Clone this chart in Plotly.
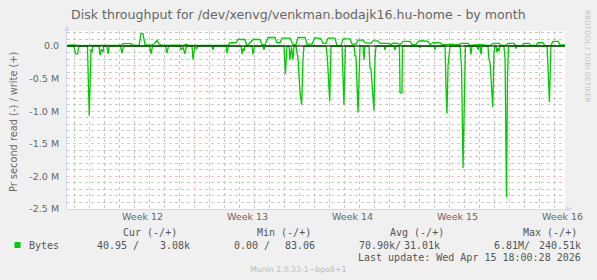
import plotly.graph_objects as go
import pandas as pd

# ---------------- data ----------------
base = pd.Timestamp("2026-03-14 00:00")   # day offsets below are relative to this

# read (plotted negative), in millions of bytes per second
read_days = [0.47, 0.93, 1.03, 1.17, 1.27, 1.83, 1.95, 2.03, 2.07, 2.13, 2.20, 2.60, 2.67, 2.77, 2.87,
             2.93, 3.13, 3.20, 3.30, 4.03, 4.13, 4.23, 5.97, 6.07, 6.17, 7.03, 7.13, 7.23, 8.00, 8.07,
             8.20, 8.33, 8.43, 8.80, 8.87, 8.97, 9.13, 9.20, 10.13, 10.20, 10.27, 11.07, 11.13, 11.23,
             12.07, 12.13, 12.20, 12.27, 12.33, 12.80, 12.87, 12.97, 13.53, 13.60, 13.67, 14.93, 15.03,
             15.13, 15.27, 15.33, 15.43, 15.53, 15.60, 15.73, 15.87, 16.00, 16.11, 16.20, 16.27, 17.73,
             17.83, 17.98, 18.07, 18.80, 18.93, 19.03, 19.60, 19.67, 19.73, 19.87, 19.93, 20.00, 20.20,
             20.27, 20.33, 20.60, 20.67, 20.73, 20.93, 21.00, 21.07, 21.60, 21.67, 21.73, 22.27, 22.33,
             22.40, 22.63, 22.67, 22.80, 22.83, 23.93, 24.00, 24.07, 24.93, 25.00, 25.07, 25.67, 25.73,
             25.80, 25.87, 25.93, 26.00, 26.67, 26.73, 26.77, 26.87, 26.97, 27.03, 27.33, 27.40, 27.47,
             27.80, 27.87, 27.93, 28.00, 28.07, 28.13, 28.53, 28.60, 28.67, 28.85, 28.93, 29.00, 29.07,
             29.13, 29.20, 29.27, 29.33, 29.60, 29.67, 29.77, 29.83, 29.90, 30.33, 30.40, 30.47, 32.47,
             32.53, 32.63, 32.73, 33.67]
read_vals = [0, 0, -0.12, -0.12, 0, 0, -1.07, -0.2, -0.05, -0.1, 0, 0, -0.14, -0.05, -0.09,
             0, 0, -0.12, 0, 0, -0.11, 0, 0, -0.12, 0, 0, -0.11, 0, 0, -0.06,
             -0.02, -0.12, 0, 0, -0.21, -0.02, -0.04, 0, 0, -0.06, 0, 0, -0.11, 0,
             0, -0.12, -0.04, -0.08, 0, 0, -0.13, 0, 0, -0.06, 0, 0, -0.43,
             0, 0, -0.21, -0.02, -0.21, 0, 0, -0.2, -0.7, -0.90, -0.2, 0, 0,
             -0.2, -0.85, 0, 0, -0.90, 0, 0, -0.15, -0.15, -1.02, -0.3, 0, 0,
             -0.21, 0, 0, -0.34, -0.35, -0.99, -0.2, 0, 0, -0.06, 0, 0, -0.06,
             0, 0, -0.72, -0.72, 0, 0, -0.03, 0, 0, -0.05, 0, 0, -0.6,
             -1.04, -0.3, -0.15, 0, 0, -0.31, -0.32, -1.87, -0.2, 0, 0, -0.13, 0,
             0, -0.06, 0, 0, -0.13, 0, 0, -0.21, -0.25, -0.94, -0.1, 0, 0,
             -0.1, -0.03, -0.08, 0, 0, -0.2, -2.32, -0.5, 0, 0, -0.04, 0, 0,
             -0.3, -0.86, 0, 0]

# write (plotted positive), in millions of bytes per second
write_days = [0.47, 0.80, 1.33, 1.87, 2.33, 3.33, 4.07, 4.20, 4.73, 4.87, 5.27, 5.40, 5.53, 5.67, 6.00,
              6.27, 6.47, 6.60, 6.80, 7.67, 8.27, 8.40, 8.53, 9.33, 10.00, 10.20, 10.47, 11.20, 11.33,
              11.73, 11.87, 12.33, 12.47, 12.60, 12.87, 13.33, 13.47, 13.67, 13.87, 14.33, 14.47, 14.67,
              14.80, 15.33, 15.53, 15.73, 15.87, 16.33, 16.47, 16.80, 17.00, 17.40, 17.53, 17.73, 17.87,
              18.33, 18.47, 18.73, 18.87, 19.33, 19.47, 19.73, 19.87, 20.20, 20.33, 20.73, 20.87, 21.20,
              21.33, 21.93, 22.07, 22.20, 22.53, 22.67, 22.87, 23.33, 23.47, 23.73, 23.87, 24.13, 24.53,
              24.67, 24.87, 25.33, 25.47, 25.87, 26.13, 26.33, 26.60, 26.73, 27.20, 27.33, 27.73, 27.87,
              28.20, 28.40, 28.73, 28.87, 29.27, 29.40, 29.73, 29.87, 30.27, 30.40, 30.80, 30.93, 31.27,
              31.40, 31.73, 31.87, 32.20, 32.33, 32.73, 32.87, 33.20, 33.33, 33.67]
write_vals = [0.01, 0.015, 0.005, 0.01, 0.01, 0.008, 0.01, 0.035, 0.035, 0.01, 0.01, 0.19, 0.19, 0.02, 0.01,
              0.03, 0.09, 0.03, 0.01, 0.012, 0.01, 0.03, 0.01, 0.01, 0.01, 0.015, 0.01, 0.01, 0.05,
              0.05, 0.10, 0.10, 0.0, 0.03, 0.10, 0.10, 0.02, 0.02, 0.13, 0.13, 0.05, 0.05,
              0.12, 0.12, 0.02, 0.02, 0.13, 0.13, 0.03, 0.03, 0.13, 0.11, 0.04, 0.04, 0.12,
              0.12, 0.0, 0.01, 0.11, 0.11, 0.03, 0.03, 0.09, 0.09, 0.05, 0.04, 0.08, 0.08,
              0.04, 0.04, 0.02, 0.045, 0.04, 0.02, 0.07, 0.07, 0.02, 0.02, 0.07, 0.08, 0.07,
              0.02, 0.05, 0.05, 0.02, 0.02, 0.03, 0.02, 0.02, 0.04, 0.04, 0.01, 0.02, 0.02,
              0.02, 0.01, 0.01, 0.04, 0.04, 0.01, 0.01, 0.04, 0.04, 0.0, 0.01, 0.04, 0.04,
              0.01, 0.01, 0.05, 0.05, 0.0, 0.01, 0.07, 0.07, 0.02, 0.015]

x_range_days = [0.467, 33.667]
week_starts = ["2026-03-16", "2026-03-23", "2026-03-30", "2026-04-06", "2026-04-13"]
week_labels = ["Week 12", "Week 13", "Week 14", "Week 15", "Week 16"]
y_tick_vals = [0.0, -0.5, -1.0, -1.5, -2.0, -2.5]
y_tick_text = ["0.0", "-0.5 M", "-1.0 M", "-1.5 M", "-2.0 M", "-2.5 M"]
y_range = [-2.5, 0.23]

legend_headers = ["Cur (-/+)", "Min (-/+)", "Avg (-/+)", "Max (-/+)"]
legend_read = ["40.95 /", "0.00 /", "70.90k/", "6.81M/"]
legend_write = ["3.08k", "83.06", "31.01k", "240.51k"]
series_name = "Bytes"
last_update = "Last update: Wed Apr 15 18:00:28 2026"
title_text = "Disk throughput for /dev/xenvg/venkman.bodajk16.hu-home - by month"
y_title = "Pr second read (-) / write (+)"
footer = "Munin 2.0.33-1~bpo8+1"
watermark = "RRDTOOL / TOBI OETIKER"

# ---------------- layout geometry ----------------
W, H = 597, 280
L, R, T, B = 67, 32, 31, 71
PW, PH = W - L - R, H - T - B


def px(x):
    return (x - L) / PW


def py(y):
    return (H - B - y) / PH


GREEN = "#00CC00"
FONT = "#666666"
AXIS = "#CFD6F8"
SANS = "DejaVu Sans"
MONO = "DejaVu Sans Mono"

to_t = lambda d: base + pd.to_timedelta(d, unit="D")
read_t = [to_t(d) for d in read_days]
write_t = [to_t(d) for d in write_days]
x0, x1 = to_t(x_range_days[0]), to_t(x_range_days[1])

fig = go.Figure()
fig.add_trace(go.Scatter(x=read_t, y=read_vals, mode="lines",
                         line=dict(color=GREEN, width=1.3), hoverinfo="skip", showlegend=False))
fig.add_trace(go.Scatter(x=write_t, y=write_vals, mode="lines",
                         line=dict(color=GREEN, width=1.3), hoverinfo="skip", showlegend=False))

fig.update_layout(
    width=W, height=H,
    margin=dict(l=L, r=R, t=T, b=B),
    paper_bgcolor="#F0F0F0", plot_bgcolor="#FFFFFF",
    showlegend=False,
    xaxis=dict(type="date", range=[x0, x1], tickvals=week_starts, ticktext=[""] * len(week_starts),
               showgrid=True, gridcolor="#FFBFBF", griddash="dot", gridwidth=1,
               minor=dict(dtick=86400000, tick0=week_starts[0], showgrid=True,
                          gridcolor="#C8C8C8", griddash="dot", gridwidth=1),
               showline=True, linecolor=AXIS, linewidth=1, zeroline=False, ticks="",
               fixedrange=True),
    yaxis=dict(range=y_range, tickvals=y_tick_vals, ticktext=y_tick_text,
               tickfont=dict(family=SANS, size=9.5, color=FONT),
               showgrid=True, gridcolor="#FFBFBF", griddash="dot", gridwidth=1,
               minor=dict(dtick=0.1, tick0=0, showgrid=True, gridcolor="#C8C8C8",
                          griddash="dot", gridwidth=1),
               showline=True, linecolor=AXIS, linewidth=1, zeroline=False, ticks="",
               ticklabelstandoff=5, fixedrange=True),
)

# zero rule on top
fig.add_shape(type="line", xref="paper", yref="y", x0=0, x1=1, y0=0, y1=0,
              line=dict(color="#000000", width=1.2), layer="above")
# axis arrows
fig.add_shape(type="path", xref="paper", yref="paper",
              path=f"M {px(64.5)} {py(31)} L {px(69.5)} {py(31)} L {px(67)} {py(25.5)} Z",
              fillcolor=AXIS, line=dict(width=0), layer="above")
fig.add_shape(type="line", xref="paper", yref="paper", x0=1, x1=px(570), y0=0, y1=0,
              line=dict(color=AXIS, width=1))
fig.add_shape(type="path", xref="paper", yref="paper",
              path=f"M {px(567)} {py(206.5)} L {px(567)} {py(211.5)} L {px(572.5)} {py(209)} Z",
              fillcolor=AXIS, line=dict(width=0), layer="above")

ann = []
ann.append(dict(text=title_text, xref="paper", yref="paper", x=px(298), y=py(14),
                xanchor="center", yanchor="middle", showarrow=False,
                font=dict(family=SANS, size=12.6, color=FONT)))
ann.append(dict(text=y_title, xref="paper", yref="paper", x=px(13), y=py(122),
                xanchor="center", yanchor="middle", textangle=-90, showarrow=False,
                font=dict(family=SANS, size=9.8, color=FONT)))
ann.append(dict(text=watermark, xref="paper", yref="paper", x=px(588), y=py(56),
                xanchor="center", yanchor="middle", textangle=90, showarrow=False,
                font=dict(family=SANS, size=7.2, color="#C4C4C4")))
# week labels centered in each week
for ws, lab in zip(week_starts, week_labels):
    mid = pd.Timestamp(ws) + pd.Timedelta(hours=84)
    ann.append(dict(text=lab, xref="x", yref="paper", x=mid, y=py(216.5),
                    xanchor="center", yanchor="middle", showarrow=False,
                    font=dict(family=SANS, size=9.5, color=FONT)))
# legend block
hdr_x = [150, 284, 417, 550]
rd_x = [95, 231.5, 357, 492]
wr_x = [191.5, 317, 442, 583]
for hx, h in zip(hdr_x, legend_headers):
    ann.append(dict(text=h.replace(" ", "&nbsp;"), xref="paper", yref="paper", x=px(hx), y=py(233),
                    xanchor="center", yanchor="middle", showarrow=False,
                    font=dict(family=MONO, size=10, color="#555555")))
for rx, s in zip(rd_x, legend_read):
    ann.append(dict(text=s.replace(" ", "&nbsp;"), xref="paper", yref="paper", x=px(rx), y=py(245.5),
                    xanchor="left", yanchor="middle", showarrow=False,
                    font=dict(family=MONO, size=10, color="#555555")))
for wx, s in zip(wr_x, legend_write):
    ann.append(dict(text=s, xref="paper", yref="paper", x=px(wx), y=py(245.5),
                    xanchor="right", yanchor="middle", showarrow=False,
                    font=dict(family=MONO, size=10, color="#555555")))
ann.append(dict(text=series_name, xref="paper", yref="paper", x=px(26.5), y=py(245.5),
                xanchor="left", yanchor="middle", showarrow=False,
                font=dict(family=MONO, size=10, color="#555555")))
ann.append(dict(text=last_update.replace(" ", "&nbsp;"), xref="paper", yref="paper", x=px(583), y=py(257.5),
                xanchor="right", yanchor="middle", showarrow=False,
                font=dict(family=MONO, size=10, color="#555555")))
ann.append(dict(text=footer, xref="paper", yref="paper", x=px(298), y=py(269.5),
                xanchor="center", yanchor="middle", showarrow=False,
                font=dict(family=SANS, size=7.8, color="#BBBBBB")))
fig.update_layout(annotations=ann)

# legend colour swatch
fig.add_shape(type="rect", xref="paper", yref="paper", x0=px(14.5), x1=px(20.5),
              y0=py(248), y1=py(242), fillcolor=GREEN, line=dict(width=0))

fig.write_html("out.html")
